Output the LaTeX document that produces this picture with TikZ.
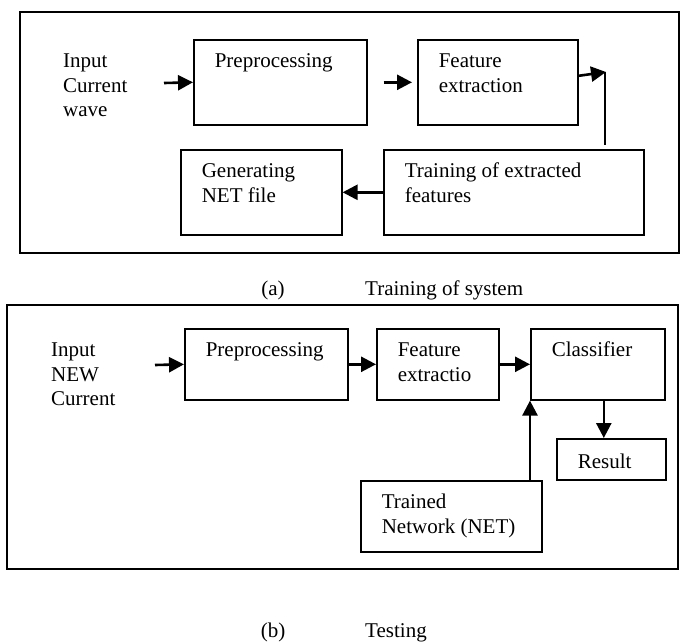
\documentclass[tikz,border=0pt]{standalone}
\usepackage{fontspec}
\setmainfont{Liberation Serif}
\usetikzlibrary{arrows.meta, positioning}

\newcommand{\blocktxt}[3]{\parbox[c][#2][t]{#1}{\strut#3}}

\begin{document}
\fontsize{21}{24.5}\selectfont
\begin{tikzpicture}[x=1pt, y=-1pt,
    blk/.style={draw, line width=1.6pt, anchor=north west, inner xsep=21pt, inner ysep=11pt},
    frm/.style={draw, line width=1.7pt},
    arr/.style={line width=2.6pt, -{Triangle[length=15pt,width=15pt]}},
    thinln/.style={line width=1.4pt},
    lbl/.style={align=left, anchor=north west, inner sep=0pt}]
\useasboundingbox (0,0) rectangle (688,641);

% (a) training
\draw[frm] (20,12) rectangle (679,253);
\node[lbl] (inTxtA) at (63,50.5) {\strut Input\\Current\\wave};
\node[blk] (prepA) at (193,39) {\blocktxt{131pt}{63pt}{Preprocessing}};
\node[blk] (feA) at (417,39) {\blocktxt{118pt}{63pt}{Feature\\extraction}};
\node[blk] (genA) at (180,149) {\blocktxt{119pt}{63pt}{Generating\\NET file}};
\node[blk] (trainA) at (383,149) {\blocktxt{218pt}{63pt}{Training of extracted\\features}};
\coordinate (inA) at (164,83);
\coordinate (turnA) at (606,72);
\draw[arr] (inA) -- (prepA.west);
\draw[arr] ([xshift=16pt]prepA.east) -- ([xshift=-5pt]feA.west);
\draw[arr] ([yshift=6.5pt]feA.east) -- (turnA);
\draw[thinln] ([xshift=-1pt]turnA) -- ([xshift=-1pt,yshift=4pt]turnA |- trainA.north);
\draw[arr] (trainA.west) -- (genA.east);
\node[anchor=base] (capA) at (273,295) {(a)};
\node[anchor=base west] (capAtxt) at (358,295) {Training of system};

% (b) testing
\draw[frm] (7,305) rectangle (678,569);
\node[lbl] (inTxtB) at (51,339.5) {\strut Input\\NEW\\Current};
\node[blk] (prepB) at (184,328) {\blocktxt{121pt}{49pt}{Preprocessing}};
\node[blk] (feB) at (376,328) {\blocktxt{80pt}{49pt}{Feature\\extractio}};
\node[blk] (clsB) at (530,328) {\blocktxt{92pt}{49pt}{Classifier}};
\node[blk, inner ysep=13pt] (resB) at (556,438) {\blocktxt{67pt}{15pt}{Result}};
\node[blk] (trnB) at (360,480) {\blocktxt{139pt}{49pt}{Trained\\Network (NET)}};
\coordinate (inB) at (155,365);
\coordinate (clsOut) at ([xshift=6pt]clsB.south);
\draw[arr] (inB) -- (prepB.west);
\draw[arr] (prepB.east) -- (feB.west);
\draw[arr] (feB.east) -- (clsB.west);
\draw[arr] (clsOut) -- (clsOut |- resB.north);
\draw[arr] (clsB.south west |- trnB.north) -- (clsB.south west);
\node[anchor=base] (capB) at (273,637) {(b)};
\node[anchor=base west] (capBtxt) at (358,637) {Testing};
\end{tikzpicture}
\end{document}
